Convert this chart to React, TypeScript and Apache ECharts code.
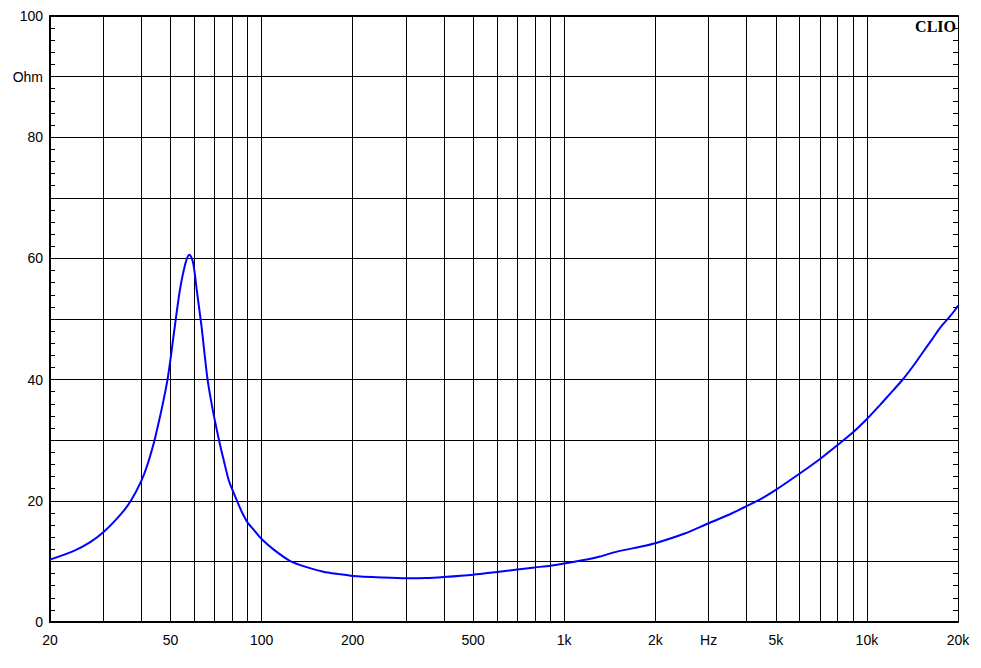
import React, { useEffect, useRef } from "react";
import * as echarts from "echarts";

// Impedance curve (Hz, Ohm)
const freqHz = [
  20, 24, 27, 30, 34.3, 37, 40, 42, 44.3, 46, 47.4, 48.9, 50, 51, 52.4, 53.5, 54.5, 55.9, 56.8, 57.7,
  58.6, 59.5, 60.2, 61, 62.2, 63.4, 64.8, 66.2, 68, 70, 72.5, 75, 78, 82.8, 86, 90, 95, 100, 110, 124,
  140, 160, 180, 200, 250, 300, 350, 400, 500, 600, 700, 800, 900, 1000, 1200, 1312, 1450, 1587, 1800,
  2000, 2500, 3000, 3500, 4000, 4500, 5000, 6000, 7000, 8000, 9000, 10000, 11040, 12000, 13180, 14200,
  15350, 16400, 17420, 18570, 19500, 20000,
];
const impedanceOhm = [
  10.3, 11.75, 13.1, 14.8, 17.8, 20, 23.2, 26, 30, 33.5, 36.5, 40, 43.3, 46.6, 51.0, 54.2, 56.5, 59.0, 60.1, 60.6,
  60.2, 59.1, 57.4, 55.0, 51.8, 48.6, 44.3, 40.3, 36.7, 33.4, 29.8, 26.7, 23.3, 20.1, 18.2, 16.4, 15.0, 13.7, 11.9, 10.1,
  9.1, 8.3, 7.9, 7.6, 7.35, 7.22, 7.25, 7.42, 7.8, 8.25, 8.65, 9.0, 9.3, 9.65, 10.35, 10.8, 11.45, 11.9, 12.45,
  13.0, 14.6, 16.3, 17.7, 19.1, 20.4, 21.8, 24.5, 26.9, 29.2, 31.3, 33.5, 35.8, 37.8, 40.1, 42.2,
  44.6, 46.6, 48.5, 50.1, 51.4, 52.2,
];

// Vertical grid lines (Hz)
const gridFreqs = [
  20, 30, 40, 50, 60, 70, 80, 90, 100, 200, 300, 400, 500, 600, 700, 800, 900, 1000,
  2000, 3000, 4000, 5000, 6000, 7000, 8000, 9000, 10000, 20000,
];
// X tick labels
const xTickValues = [20, 50, 100, 200, 500, 1000, 2000, 3000, 5000, 10000, 20000];
const xTickLabels = ["20", "50", "100", "200", "500", "1k", "2k", "Hz", "5k", "10k", "20k"];
// Y tick labels
const yTickValues = [0, 20, 40, 60, 80, 90, 100];
const yTickLabels = ["0", "20", "40", "60", "80", "Ohm", "100"];

const FONT = "'Liberation Sans', Arial, sans-serif";

export default function App() {
  const ref = useRef<HTMLDivElement>(null);

  useEffect(() => {
    if (!ref.current) return;
    const chart = echarts.init(ref.current, undefined, { renderer: "svg" });

    const markData: any[] = gridFreqs.map((f) => {
      const idx = xTickValues.indexOf(f);
      const edge = f === 20 || f === 20000;
      return {
        xAxis: f,
        lineStyle: edge ? { color: "rgba(0,0,0,0)" } : undefined,
        label:
          idx >= 0
            ? { show: true, formatter: xTickLabels[idx] }
            : { show: false },
      };
    });
    xTickValues.forEach((v, i) => {
      if (gridFreqs.indexOf(v) < 0) {
        markData.push({ xAxis: v, lineStyle: { color: "rgba(0,0,0,0)" }, label: { show: true, formatter: xTickLabels[i] } });
      }
    });

    const yLabel = (v: number) => {
      const i = yTickValues.indexOf(Math.round(v));
      return i >= 0 ? yTickLabels[i] : "";
    };

    const yCommon = {
      type: "value" as const,
      min: 0,
      max: 100,
      interval: 10,
      axisTick: { show: false, inside: true },
      minorTick: { show: true, splitNumber: 5, length: 5, lineStyle: { color: "#000", width: 1 } },
      splitLine: { show: false },
    };

    chart.setOption({
      animation: false,
      backgroundColor: "#ffffff",
      grid: { left: 50, right: 23, top: 16, bottom: 46, containLabel: false },
      xAxis: [
        {
          type: "log",
          logBase: 10,
          min: 20,
          max: 20000,
          axisLine: { show: true, lineStyle: { color: "#000", width: 2 } },
          axisTick: { show: false },
          axisLabel: { show: false },
          splitLine: { show: false },
          minorTick: { show: false },
        },
        {
          type: "log",
          logBase: 10,
          min: 20,
          max: 20000,
          position: "top",
          axisLine: { show: true, onZero: false, lineStyle: { color: "#000", width: 2 } },
          axisTick: { show: false },
          axisLabel: { show: false },
          splitLine: { show: false },
        },
      ],
      yAxis: [
        {
          ...yCommon,
          position: "left",
          axisLine: { show: true, lineStyle: { color: "#000", width: 2 } },
          axisLabel: {
            show: true,
            color: "#000",
            fontFamily: FONT,
            fontSize: 14,
            margin: 7,
            formatter: yLabel,
          },
          splitLine: { show: true, lineStyle: { color: "#000", width: 1 } },
        },
        {
          ...yCommon,
          position: "right",
          axisLine: { show: true, lineStyle: { color: "#000", width: 1 } },
          axisLabel: { show: false },
        },
      ],
      graphic: [
        {
          type: "text",
          right: 25,
          top: 18,
          z: 10,
          style: {
            text: "CLIO",
            font: "bold 16px 'Liberation Serif', 'Times New Roman', serif",
            fill: "#000",
          },
        },
      ],
      series: [
        {
          type: "line",
          xAxisIndex: 0,
          yAxisIndex: 0,
          data: freqHz.map((f, i) => [f, impedanceOhm[i]]),
          showSymbol: false,
          smooth: 0.25,
          z: 3,
          lineStyle: { color: "#0000ff", width: 2 },
          markLine: {
            silent: true,
            z: 1,
            symbol: ["none", "none"],
            lineStyle: { color: "#000", width: 1, type: "solid" },
            label: {
              position: "start",
              distance: 11,
              color: "#000",
              fontFamily: FONT,
              fontSize: 14,
            },
            data: markData,
          },
        },
      ],
    });

    return () => chart.dispose();
  }, []);

  return (
    <div
      ref={ref}
      style={{ position: "fixed", left: 0, top: 0, width: 981, height: 668, background: "#fff" }}
    />
  );
}
